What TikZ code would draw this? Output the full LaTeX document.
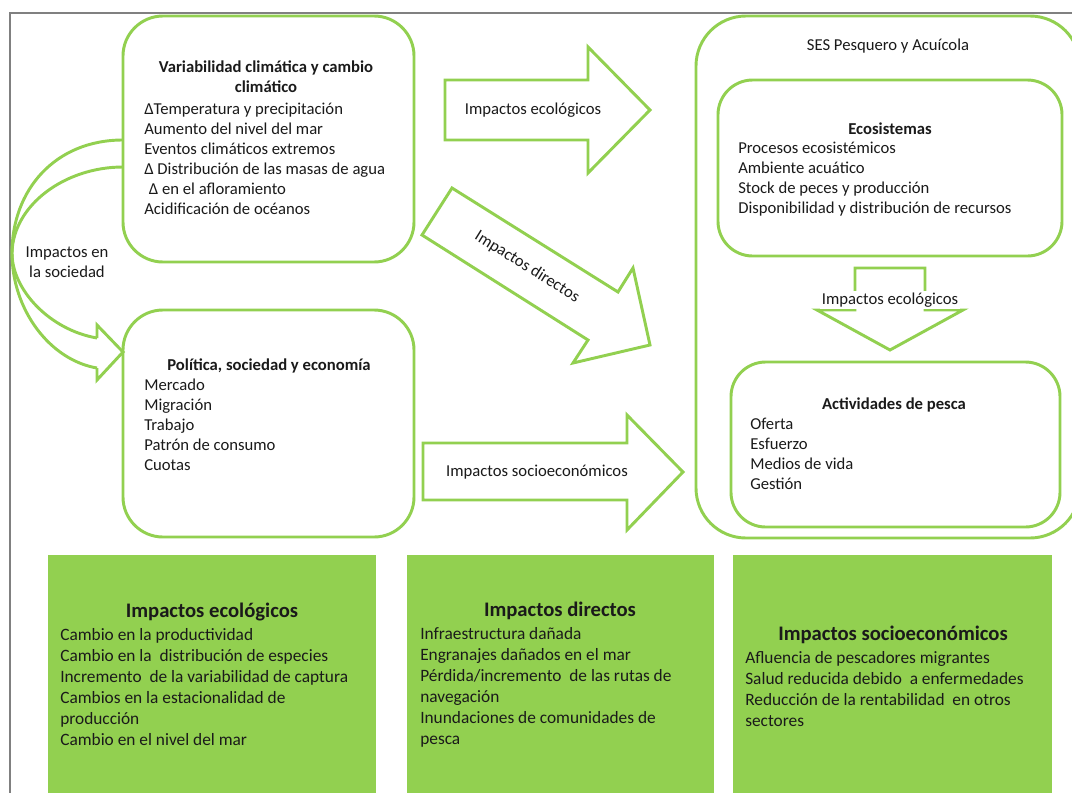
\documentclass[tikz,border=0pt]{standalone}
\usepackage{fontspec}
\setmainfont{Carlito}
\definecolor{lgreen}{HTML}{92D050}
\definecolor{frm}{HTML}{808080}
\definecolor{ink}{HTML}{1A1A1A}
\begin{document}
\begin{tikzpicture}[x=0.75pt,y=-0.75pt,
  gline/.style={draw=lgreen, line width=2.2pt, line join=miter},
  rbox/.style={gline, rectangle, rounded corners=30pt, inner sep=0pt},
  gbox/.style={fill=lgreen, rectangle, inner sep=0pt, minimum width=#1, minimum height=183.75pt},
  sm/.style={inner sep=0pt, text=ink, font=\fontsize{12.5}{15}\selectfont, align=left},
  smb/.style={inner sep=0pt, text=ink, font=\bfseries\fontsize{12.5}{14.5}\selectfont, align=center},
  bb/.style={inner sep=0pt, text=ink, font=\fontsize{13}{15.75}\selectfont, align=left},
  bbh/.style={inner sep=0pt, text=ink, font=\bfseries\fontsize{15.5}{18}\selectfont, align=center}
]
\useasboundingbox (0,0) rectangle (1072,793);
\clip (0,0) rectangle (1072,793);
\fill[white] (0,0) rectangle (1072,793);
% gray frame
\draw[frm, line width=1.2pt] (10,793) -- (10,13) -- (1072,13);

% boxes
\node[rbox, minimum width=218.25pt, minimum height=184.5pt] (clim) at (268.5,139) {};
\node[rbox, minimum width=218.25pt, minimum height=170.25pt] (pol) at (268.5,423.5) {};
\node[rbox, rounded corners=37.5pt, minimum width=288pt, minimum height=391.5pt] (ses) at (888,277) {};
\node[rbox, rounded corners=26pt, minimum width=258pt, minimum height=132pt] (eco) at (890,168) {};
\node[rbox, rounded corners=26pt, minimum width=246.75pt, minimum height=123.75pt] (act) at (895.5,444.5) {};

% texts top-left (anchor base = baseline of last line)
\node[smb, anchor=base] (climT) at (266,92) {Variabilidad climática y cambio\\climático};
\node[sm, anchor=base west] (climB) at (144,214) {ΔTemperatura y precipitación\\Aumento del nivel del mar\\Eventos climáticos extremos\\Δ Distribución de las masas de agua\\\hspace*{3.5pt}Δ en el afloramiento\\Acidificación de océanos};
\node[smb, anchor=base] (polT) at (269,370) {Política, sociedad y economía};
\node[sm, anchor=base west] (polB) at (144,470) {Mercado\\Migración\\Trabajo\\Patrón de consumo\\Cuotas};

% right texts
\node[sm, anchor=base] (sesT) at (888,50) {SES Pesquero y Acuícola};
\node[smb, anchor=base] (ecoT) at (890,134) {Ecosistemas};
\node[sm, anchor=base west] (ecoB) at (738,213) {Procesos ecosistémicos\\Ambiente acuático\\Stock de peces y producción\\Disponibilidad y distribución de recursos};
\node[smb, anchor=base] (actT) at (894,409) {Actividades de pesca};
\node[sm, anchor=base west] (actB) at (750,489) {Oferta\\Esfuerzo\\Medios de vida\\Gestión};

% block arrows
\draw[gline] (445,80) -- (588,80) -- (588,47) -- (650,110) -- (588,173) -- (588,140) -- (445,140) -- cycle;
\node[sm] (a1) at (533,110) {Impactos ecológicos};
\draw[gline] (452,188) -- (618,292) -- (633,268) -- (650,345) -- (573,363) -- (588,340) -- (422,235) -- cycle;
\node[sm, rotate=-32] (a2) at (527,267) {Impactos directos};
\draw[gline] (423,443) -- (627,443) -- (627,415) -- (683,472) -- (627,530) -- (627,500) -- (423,500) -- cycle;
\node[sm] (a3) at (537,472) {Impactos socioeconómicos};
\draw[gline] (855,268) -- (925,268) -- (925,310) -- (963,310) -- (890,350) -- (817,310) -- (855,310) -- cycle;
\node[sm, fill=white, inner sep=1.5pt] (a4) at (890,300) {Impactos ecológicos};

% curved arrow
\draw[gline] (123,140) .. controls (55,140) and (12,190) .. (12,253) .. controls (12,310) and (50,360) .. (97,368);
\draw[gline] (123,167) .. controls (65,167) and (13,205) .. (12,253) .. controls (12,290) and (50,330) .. (97,338);
\draw[gline] (97,338) -- (97,325) -- (123,352) -- (97,380) -- (97,368);
\node[sm, align=center] (soc) at (67,262) {Impactos en\\la sociedad};

% bottom green boxes
\node[gbox=246pt] (b1) at (212,677.5) {};
\node[gbox=230.25pt] (b2) at (560.5,677.5) {};
\node[gbox=239.25pt] (b3) at (892.5,677.5) {};
\node[bbh, anchor=base] (b1T) at (212,617) {Impactos ecológicos};
\node[bb, anchor=base west] (b1B) at (60,745) {Cambio en la productividad\\Cambio en la\ \ distribución de especies\\Incremento\ \ de la variabilidad de captura\\Cambios en la estacionalidad de\\producción\\Cambio en el nivel del mar};
\node[bbh, anchor=base] (b2T) at (560,616) {Impactos directos};
\node[bb, anchor=base west] (b2B) at (420,744) {Infraestructura dañada\\Engranajes dañados en el mar\\Pérdida/incremento\ \ de las rutas de\\navegación\\Inundaciones de comunidades de\\pesca};
\node[bbh, anchor=base] (b3T) at (893,640) {Impactos socioeconómicos};
\node[bb, anchor=base west] (b3B) at (745,726) {Afluencia de pescadores migrantes\\Salud reducida debido\ \ a enfermedades\\Reducción de la rentabilidad\ \ en otros\\sectores};
\end{tikzpicture}
\end{document}
